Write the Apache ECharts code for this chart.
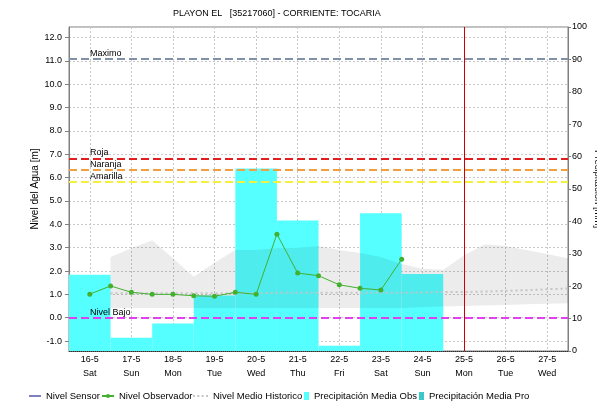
<!DOCTYPE html>
<html>
<head>
<meta charset="utf-8">
<script src="https://cdn.jsdelivr.net/npm/echarts@6/dist/echarts.min.js"></script>
<style>html,body{margin:0;padding:0;background:#fff}#c{width:597px;height:404px}</style>
</head>
<body>
<div id="c"></div>
<script>
var categories = ['16-5','17-5','18-5','19-5','20-5','21-5','22-5','23-5','24-5','25-5','26-5','27-5'];
var weekdays = ['Sat','Sun','Mon','Tue','Wed','Thu','Fri','Sat','Sun','Mon','Tue','Wed'];
var precipObs = [23.5, 4.1, 8.5, 17.1, 56.3, 40.3, 1.6, 42.5, 23.8, null, null, null];
var precipPro = [null, null, null, null, null, null, null, null, null, null, null, null];
var obsTimes = [0,0.5,1,1.5,2,2.5,3,3.5,4,4.5,5,5.5,6,6.5,7,7.5];
var obsLevels = [1.01,1.36,1.09,1.00,1.00,0.94,0.92,1.09,1.00,3.58,1.91,1.80,1.41,1.26,1.19,2.50];
var histTimes = [0.5,1,1.5,2,2.5,3,3.5,4,4.5,5,5.5,6,6.5,7,7.5,8,8.5,9,9.5,10,10.5,11,11.5];
var histUpper = [2.6,2.98,3.32,2.55,1.75,2.35,2.9,2.9,2.98,3.0,3.07,2.9,2.77,2.6,2.3,2.1,2.05,2.68,3.15,3.07,2.9,2.73,2.55];
var histLower = [0.42,0.42,0.42,0.42,0.42,0.42,0.42,0.42,0.42,0.42,0.42,0.42,0.42,0.42,0.42,0.45,0.48,0.5,0.52,0.55,0.58,0.6,0.62];
var histMean = [1.05,1.05,1.05,1.05,1.05,1.05,1.05,1.05,1.07,1.07,1.07,1.07,1.07,1.07,1.07,1.08,1.1,1.1,1.12,1.15,1.18,1.22,1.25];
var currentDay = 9;
var thresholds = [
  {name:'Maximo', value:11.1, color:'#8090a8'},
  {name:'Roja', value:6.82, color:'#e02020'},
  {name:'Naranja', value:6.32, color:'#f0a040'},
  {name:'Amarilla', value:5.81, color:'#f4f040'},
  {name:'Nivel Bajo', value:0.0, color:'#e040f0'}
];
var yLeftMin = -1.425, yLeftMax = 12.45;

var FONT = 'Liberation Sans';
function pairs(xs, ys){ return xs.map(function(x,i){ return [x, ys[i]]; }); }

var chart = echarts.init(document.getElementById('c'), null, {renderer:'canvas'});

var markData = thresholds.map(function(t){
  return {
    yAxis: t.value, name: t.name,
    lineStyle: {color: t.color, type: [8,4], width: 2},
    label: {show: true, formatter: t.name, position: 'insideStartTop', distance: [21, 1],
            color: '#000', fontSize: 9, fontFamily: FONT}
  };
});
markData.push({
  xAxis: currentDay,
  lineStyle: {color: '#cc0000', type: 'solid', width: 1},
  label: {show: false}
});

function legendItem(name, left, w, h, icon){
  var l = {
    data: [name], left: left, top: 391, itemWidth: w, itemHeight: h, itemGap: 0, padding: 0,
    selectedMode: false,
    textStyle: {fontSize: 9.5, fontFamily: FONT, color: '#000'}
  };
  if (icon) l.icon = icon;
  return l;
}

chart.setOption({
  animation: false,
  backgroundColor: '#fff',
  title: {
    text: 'PLAYON EL   [35217060] - CORRIENTE: TOCARIA',
    left: 168, top: 4,
    textStyle: {fontSize: 9, fontWeight: 'normal', fontFamily: FONT, color: '#000'}
  },
  legend: [
    legendItem('Nivel Sensor', 29, 12, 1, 'rect'),
    legendItem('Nivel Observador', 101, 12, 5),
    legendItem('Nivel Medio Historico', 193, 15, 2, 'path://M0,0h2v2h-2z M4.3,0h2v2h-2z M8.6,0h2v2h-2z M13,0h2v2h-2z'),
    legendItem('Precipitación Media Obs', 304, 5, 8, 'rect'),
    legendItem('Precipitación Media Pro', 419, 5, 8, 'rect')
  ],
  grid: {left: 69, right: 29, top: 27, bottom: 53, show: true, borderColor: '#808080', borderWidth: 1,
         containLabel: false, outerBoundsMode: 'none'},
  xAxis: [
    {
      type: 'category', data: categories, boundaryGap: true, position: 'bottom',
      axisLine: {show: true, onZero: false, lineStyle: {color: '#303030', type: 'dotted', width: 1}},
      axisTick: {show: false},
      splitLine: {show: false},
      axisLabel: {
        margin: 2, fontSize: 9, fontFamily: FONT, color: '#000', lineHeight: 14,
        formatter: function(v, i){ return v + '\n' + weekdays[i]; }
      }
    },
    {
      type: 'value', min: -0.5, max: 11.5, splitNumber: 12, position: 'bottom',
      axisLine: {show: false, onZero: false}, axisTick: {show: false}, axisLabel: {show: false},
      splitLine: {show: true, lineStyle: {color: '#c8c8c8', type: [2,2], width: 1}}
    }
  ],
  yAxis: [
    {
      type: 'value', min: yLeftMin, max: yLeftMax, splitNumber: 14,
      name: 'Nivel del Agua [m]', nameLocation: 'middle', nameGap: 29, nameRotate: 90,
      nameMoveOverlap: false,
      nameTextStyle: {fontSize: 10, fontFamily: FONT, color: '#000'},
      axisLine: {show: true, onZero: false, lineStyle: {color: '#808080'}},
      axisTick: {show: true, length: 4, lineStyle: {color: '#808080'}},
      axisLabel: {
        margin: 7, fontSize: 9, fontFamily: FONT, color: '#000',
        showMinLabel: false, showMaxLabel: false,
        formatter: function(v){ return v.toFixed(1); }
      },
      splitLine: {show: true, lineStyle: {color: '#c8c8c8', type: [2,2], width: 1}}
    },
    {
      type: 'value', min: 0, max: 100, interval: 10, position: 'right',
      name: 'Precipitación [mm]', nameLocation: 'middle', nameGap: 25, nameRotate: -90,
      nameMoveOverlap: false,
      nameTextStyle: {fontSize: 9.5, fontFamily: FONT, color: '#000'},
      axisLine: {show: true, onZero: false, lineStyle: {color: '#808080'}},
      axisTick: {show: true, length: 3, lineStyle: {color: '#808080'}},
      axisLabel: {margin: 4, fontSize: 9, fontFamily: FONT, color: '#000'},
      splitLine: {show: false}
    }
  ],
  series: [
    {
      name: 'Precipitación Media Obs', type: 'bar', xAxisIndex: 0, yAxisIndex: 1,
      data: precipObs, barWidth: '100%', barGap: '-100%',
      itemStyle: {color: '#55ffff'}, z: 1
    },
    {
      name: 'Precipitación Media Pro', type: 'bar', xAxisIndex: 0, yAxisIndex: 1,
      data: precipPro, barWidth: '100%', barGap: '-100%',
      itemStyle: {color: '#3cc8c8'}, z: 1
    },
    {
      name: 'histBand', type: 'custom', xAxisIndex: 1, yAxisIndex: 0,
      data: [[0, 0]], silent: true, z: 2,
      renderItem: function(params, api){
        var pts = [];
        for (var i = 0; i < histTimes.length; i++) pts.push(api.coord([histTimes[i], histUpper[i]]));
        for (var j = histTimes.length - 1; j >= 0; j--) pts.push(api.coord([histTimes[j], histLower[j]]));
        return {type: 'polygon', shape: {points: pts}, style: {fill: 'rgba(0,0,0,0.075)'}};
      }
    },
    {
      name: 'Nivel Medio Historico', type: 'line', xAxisIndex: 1, yAxisIndex: 0,
      data: pairs(histTimes, histMean), symbol: 'none',
      lineStyle: {color: '#c4c4c4', type: [2,3], width: 2}, itemStyle: {color: '#c4c4c4'}, z: 3
    },
    {
      name: 'Nivel Sensor', type: 'line', xAxisIndex: 1, yAxisIndex: 0,
      data: [], symbol: 'none',
      lineStyle: {color: '#000080', width: 1}, itemStyle: {color: '#000080'}, z: 3
    },
    {
      name: 'Nivel Observador', type: 'line', xAxisIndex: 1, yAxisIndex: 0,
      data: pairs(obsTimes, obsLevels), symbol: 'circle', symbolSize: 5,
      lineStyle: {color: '#44b030', width: 1}, itemStyle: {color: '#44b030'}, z: 5,
      markLine: {symbol: ['none','none'], silent: true, animation: false, data: markData}
    }
  ]
});
</script>
</body>
</html>
